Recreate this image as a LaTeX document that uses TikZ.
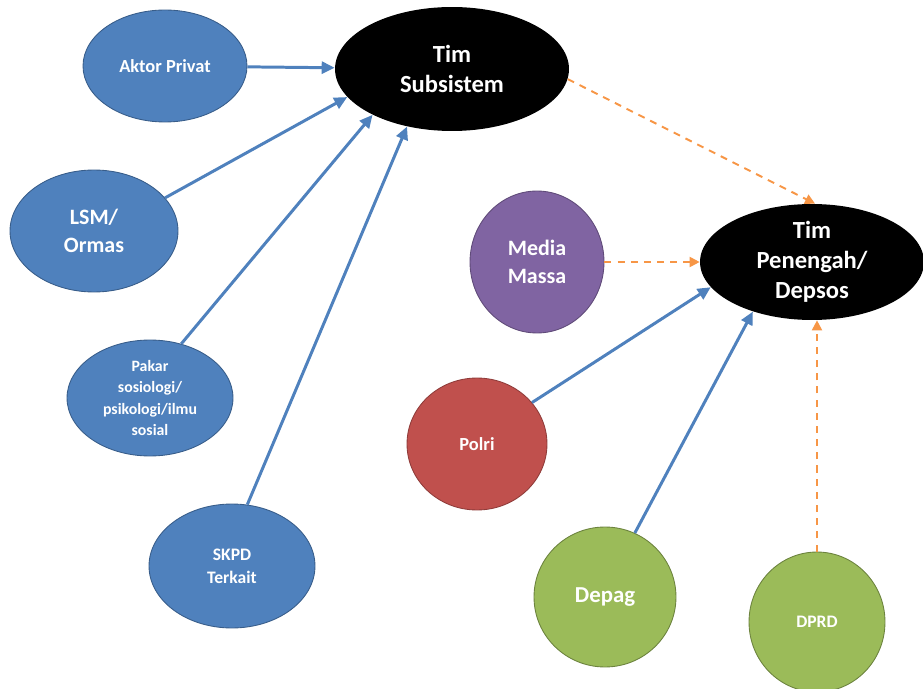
\documentclass[tikz,border=0pt]{standalone}
\usepackage{fontspec}
\setmainfont{Carlito}
\usetikzlibrary{arrows.meta, shapes.geometric}

\definecolor{offblue}{HTML}{4F81BD}
\definecolor{offblueline}{HTML}{385D8A}
\definecolor{offpurple}{HTML}{8064A2}
\definecolor{offred}{HTML}{C0504D}
\definecolor{offgreen}{HTML}{9BBB59}
\definecolor{offorange}{HTML}{F79646}

\begin{document}
\begin{tikzpicture}[x=0.02cm, y=-0.02cm,
    bubble/.style={ellipse, draw=offblueline, line width=0.5pt, inner sep=0pt,
        text=white, font=\bfseries, align=center},
    blueb/.style={bubble, fill=offblue},
    blackb/.style={ellipse, fill=black, inner sep=0pt, text=white, align=center,
        font=\bfseries\fontsize{14}{17}\selectfont},
    solidarr/.style={-{Triangle[length=2.6mm, width=2.4mm]}, line width=1.7pt, offblue},
    dasharr/.style={-{Triangle[length=2mm, width=2mm]}, line width=1.1pt, offorange,
        dash pattern=on 4pt off 3.5pt}]
    \useasboundingbox (0,0) rectangle (923,689);

    \node[blackb, minimum width=4.68cm, minimum height=2.48cm] (sub) at (452,69) {Tim\\Subsistem};
    \node[blackb, minimum width=4.48cm, minimum height=2.32cm] (pen) at (812,262) {Tim\\Penengah/\\Depsos};

    \node[blueb, minimum width=3.28cm, minimum height=2.24cm, font=\bfseries\fontsize{10.5}{13}\selectfont] (aktor) at (165,66) {Aktor Privat};
    \node[blueb, minimum width=3.36cm, minimum height=2.44cm, font=\bfseries\fontsize{12.5}{16}\selectfont] (lsm) at (94,231) {LSM/\\Ormas};
    \node[blueb, minimum width=3.32cm, minimum height=2.32cm, font=\bfseries\fontsize{9}{12}\selectfont] (pakar) at (150,398) {Pakar\\sosiologi/\\psikologi/ilmu\\sosial};
    \node[blueb, minimum width=3.32cm, minimum height=2.48cm, font=\bfseries\fontsize{10}{13}\selectfont] (skpd) at (232,566) {SKPD\\Terkait};

    \node[bubble, fill=offpurple, draw=offpurple!75!black, minimum width=2.68cm, minimum height=2.84cm, font=\bfseries\fontsize{12.5}{16}\selectfont] (media) at (537,262) {Media\\Massa};
    \node[bubble, fill=offred, draw=offred!75!black, minimum width=2.8cm, minimum height=2.64cm, font=\bfseries\fontsize{10.5}{13}\selectfont] (polri) at (477,444) {Polri};
    \node[bubble, fill=offgreen, draw=offgreen!70!black, minimum width=2.84cm, minimum height=2.8cm, font=\bfseries\fontsize{13}{16}\selectfont] (depag) at (605,597) {Depag};
    \node[bubble, fill=offgreen, draw=offgreen!70!black, minimum width=2.72cm, minimum height=2.8cm, font=\bfseries\fontsize{10}{13}\selectfont] (dprd) at (817,622) {DPRD};

    \draw[solidarr] (aktor) -- (sub);
    \draw[solidarr] (lsm.25) -- (sub.195);
    \draw[solidarr] (pakar.60) -- (sub.210);
    \draw[solidarr] (skpd.76) -- (sub.232);
    \draw[dasharr] (sub.-5) -- (pen.87);
    \draw[dasharr] (media) -- (pen);
    \draw[solidarr] (polri.37) -- (pen.194);
    \draw[solidarr] (depag.65) -- (pen.220);
    \draw[dasharr] (dprd.north) -- (dprd.north |- pen.south);
\end{tikzpicture}
\end{document}
